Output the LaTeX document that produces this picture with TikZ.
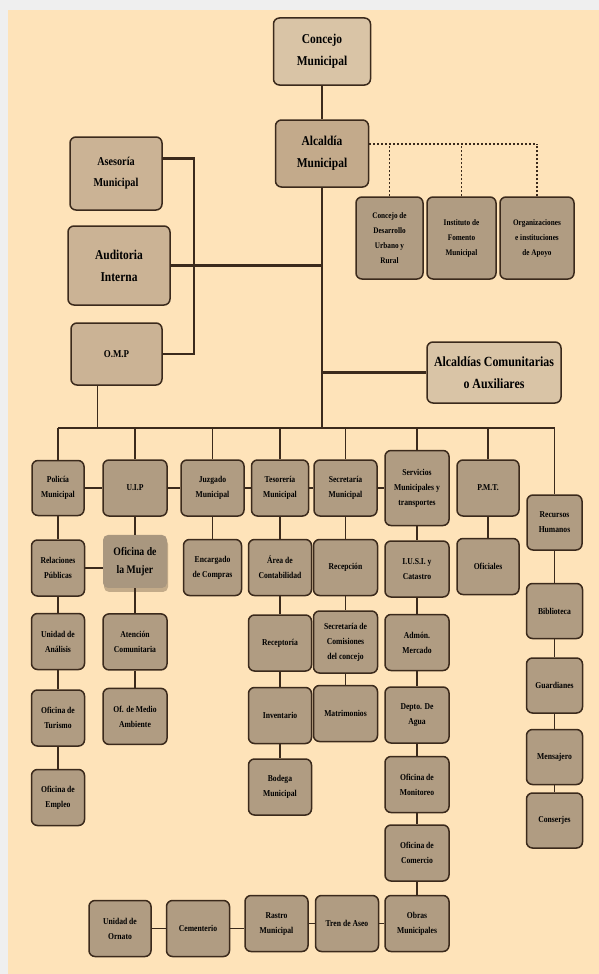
\documentclass[tikz,border=0pt]{standalone}
\usepackage{fontspec}
\setmainfont{Liberation Serif}[FakeStretch=0.85]
\usepackage{tikz}
\usetikzlibrary{positioning}
\usetikzlibrary{shadows}
\definecolor{peach}{HTML}{FEE3B9}
\definecolor{margin}{HTML}{EFEFEF}
\definecolor{edge}{HTML}{3B2A1C}
\definecolor{sand}{HTML}{D9C4A6}
\definecolor{mayor}{HTML}{C3AA8B}
\definecolor{staff}{HTML}{CBB395}
\definecolor{taupe}{HTML}{B09C82}
\definecolor{mujerfill}{HTML}{A9977F}

\begin{document}
\begin{tikzpicture}[x=1pt, y=-1pt,
      orgbox/.style ={draw=edge, line width=1.5pt, rounded corners=6pt, fill=taupe, align=center, inner sep=1pt,
                      font=\bfseries\fontsize{9}{15}\selectfont, minimum width=62pt, minimum height=56pt},
      headbox/.style ={orgbox, fill=sand, font=\bfseries\fontsize{13.5}{22}\selectfont, minimum width=97pt, minimum height=67pt},
      staffbox/.style ={orgbox, fill=staff, font=\bfseries\fontsize{12}{21}\selectfont, minimum width=92pt, minimum height=73pt},
      supportbox/.style ={orgbox, font=\bfseries\fontsize{8.5}{15}\selectfont, minimum width=67pt, minimum height=82pt},
      mujerbox/.style ={rounded corners=5pt, fill=mujerfill, align=center, font=\bfseries\fontsize{11.5}{18}\selectfont,
                        minimum width=64pt, minimum height=53pt,
                        drop shadow={shadow xshift=1pt, shadow yshift=-4pt, opacity=0.3, fill=edge}},
      link/.style ={draw=edge, line width=2.2pt},
      drop/.style ={draw=edge, line width=1.8pt},
      stem/.style ={draw=edge, line width=1.3pt},
      dots/.style ={draw=edge, line width=2pt, dash pattern=on 2pt off 2pt},
      node distance=16pt
    ]
    \useasboundingbox (0,0) rectangle (599,974) ;
    \fill [margin] (0,0) rectangle (599,974) ;
    \fill [peach] (8,10) rectangle (599,974) ;

    \node [headbox] (concejo) at (322,51.5) {Concejo\\Municipal} ;
    \node [headbox, fill=mayor, minimum width=93pt] (alcaldia) at (322,153.5) {Alcaldía\\Municipal} ;
    \node [staffbox] (asesoria) at (116,173.5) {Asesoría\\Municipal} ;
    \node [staffbox, minimum width=102pt, minimum height=79pt, font=\bfseries\fontsize{13.5}{22}\selectfont] (auditoria) at (119,265.5) {Auditoria\\Interna} ;
    \node [staffbox, minimum width=91pt, minimum height=62pt, font=\bfseries\fontsize{10.5}{15}\selectfont] (omp) at (116.5,354) {O.M.P} ;
    \node [supportbox] (cdur) at (389.5,238) {Concejo de\\Desarrollo\\Urbano y\\Rural} ;
    \node [supportbox, minimum width=69pt] (ifm) at (461.5,238) {Instituto de\\Fomento\\Municipal} ;
    \node [supportbox, minimum width=74pt] (oia) at (537,238) {Organizaciones\\e instituciones\\de Apoyo} ;
    \node [headbox, minimum width=134pt, minimum height=61pt, font=\bfseries\fontsize{14}{21.5}\selectfont] (alcaux) at (494,372.5) {Alcaldías Comunitarias\\o Auxiliares} ;

    \node [orgbox, minimum width=52pt, minimum height=55pt] (policia) at (58,488) {Policía\\Municipal} ;
    \node [orgbox, minimum width=64pt] (uip) at (135,488) {U.I.P} ;
    \node [orgbox, minimum width=63pt] (juzgado) at (212.5,488) {Juzgado\\Municipal} ;
    \node [orgbox, minimum width=57pt] (tesoreria) at (280,488) {Tesorería\\Municipal} ;
    \node [orgbox, minimum width=63pt] (secretaria) at (345.5,488) {Secretaría\\Municipal} ;
    \node [orgbox, minimum width=64pt, minimum height=75pt] (servicios) at (417,488) {Servicios\\Municipales y\\transportes} ;
    \node [orgbox] (pmt) at (488,488) {P.M.T.} ;
    \node [orgbox, minimum width=55pt, minimum height=55pt] (rrhh) at (554.5,522.5) {Recursos\\Humanos} ;

    \node [orgbox, minimum width=53pt] (relaciones) [below=23pt of policia] {Relaciones\\Públicas} ;
    \node [orgbox, minimum width=53pt] (unidad) [below=16pt of relaciones] {Unidad de\\Análisis} ;
    \node [orgbox, minimum width=53pt] (turismo) [below=19pt of unidad] {Oficina de\\Turismo} ;
    \node [orgbox, minimum width=53pt] (empleo) [below=22pt of turismo] {Oficina de\\Empleo} ;

    \node [mujerbox] (mujer) [below=18pt of uip] {Oficina de\\la Mujer} ;
    \node [orgbox, minimum width=64pt] (atencion) [below=25pt of mujer] {Atención\\Comunitaria} ;
    \node [orgbox, minimum width=64pt] (ambiente) [below=17pt of atencion] {Of. de Medio\\Ambiente} ;

    \node [orgbox, minimum width=58pt] (encargado) [below=22pt of juzgado] {Encargado\\de Compras} ;

    \node [orgbox, minimum width=63pt] (area) [below=22pt of tesoreria] {Área de\\Contabilidad} ;
    \node [orgbox, minimum width=63pt] (receptoria) [below=18pt of area] {Receptoría} ;
    \node [orgbox, minimum width=63pt] (inventario) [below=15pt of receptoria] {Inventario} ;
    \node [orgbox, minimum width=63pt] (bodega) [below=14pt of inventario] {Bodega\\Municipal} ;

    \node [orgbox, minimum width=64pt] (recepcion) [below=22pt of secretaria] {Recepción} ;
    \node [orgbox, minimum width=64pt, minimum height=62pt] (comisiones) [below=14pt of recepcion] {Secretaría de\\Comisiones\\del concejo} ;
    \node [orgbox, minimum width=64pt] (matrimonios) [below=11pt of comisiones] {Matrimonios} ;

    \node [orgbox, minimum width=64pt] (iusi) [below=14pt of servicios] {I.U.S.I. y\\Catastro} ;
    \node [orgbox, minimum width=64pt] (admon) [below=16pt of iusi] {Admón.\\Mercado} ;
    \node [orgbox, minimum width=64pt] (depto) [below=15pt of admon] {Depto. De\\Agua} ;
    \node [orgbox, minimum width=64pt] (monitoreo) [below=12pt of depto] {Oficina de\\Monitoreo} ;
    \node [orgbox, minimum width=64pt] (comercio) [below=11pt of monitoreo] {Oficina de\\Comercio} ;
    \node [orgbox, minimum width=64pt] (obras) [below=13pt of comercio] {Obras\\Municipales} ;
    \node [orgbox, minimum width=63pt] (tren) [left=5pt of obras] {Tren de Aseo} ;
    \node [orgbox, minimum width=63pt] (rastro) [left=6pt of tren] {Rastro\\Municipal} ;
    \node [orgbox, minimum width=63pt] (cementerio) [left=14pt of rastro, yshift=-5pt] {Cementerio} ;
    \node [orgbox, minimum width=62pt] (ornato) [left=14pt of cementerio] {Unidad de\\Ornato} ;

    \node [orgbox] (oficiales) [below=21pt of pmt] {Oficiales} ;

    \node [orgbox, minimum width=56pt, minimum height=55pt] (biblioteca) [below=32pt of rrhh] {Biblioteca} ;
    \node [orgbox, minimum width=56pt, minimum height=55pt] (guardianes) [below=18pt of biblioteca] {Guardianes} ;
    \node [orgbox, minimum width=56pt, minimum height=55pt] (mensajero) [below=15pt of guardianes] {Mensajero} ;
    \node [orgbox, minimum width=56pt, minimum height=55pt] (conserjes) [below=7pt of mensajero] {Conserjes} ;

    \coordinate (bus) at (322,428) ;
    \coordinate (dotline) at ([yshift=10pt]alcaldia.east) ;

    \draw [drop] (concejo) -- (alcaldia) ;
    \draw [link] (alcaldia.south) -- (bus) ;
    \draw [link] ([yshift=15pt]asesoria.east) -- ++(31,0) |- (omp.east) ;
    \draw [link] (auditoria.east) -- (auditoria.east -| alcaldia) ;
    \draw [link] (alcaux.west) -- (alcaux.west -| alcaldia) ;
    \draw [dots] (dotline) -- (dotline -| oia) ;
    \draw [dots, line width=1.2pt] (cdur.north) -- (cdur.north |- dotline) ;
    \draw [dots, line width=1.2pt] (ifm.north) -- (ifm.north |- dotline) ;
    \draw [dots, line width=1.2pt] (oia.north) -- (oia.north |- dotline) ;
    \draw [stem] ([xshift=-19pt]omp.south) -- ([xshift=-19pt]omp.south |- bus) ;

    \draw [link] (policia.north |- bus) -- (rrhh.north |- bus) ;
    \draw [drop] (policia.north) -- (policia.north |- bus) ;
    \draw [drop] (uip.north) -- (uip.north |- bus) ;
    \draw [drop] (juzgado.north) -- (juzgado.north |- bus) ;
    \draw [drop] (tesoreria.north) -- (tesoreria.north |- bus) ;
    \draw [drop] (secretaria.north) -- (secretaria.north |- bus) ;
    \draw [drop] (servicios.north) -- (servicios.north |- bus) ;
    \draw [drop] (pmt.north) -- (pmt.north |- bus) ;
    \draw [drop] (rrhh.north) -- (rrhh.north |- bus) ;

    \draw [stem] (policia) -- (uip) (uip) -- (juzgado) (juzgado) -- (tesoreria) ;
    \draw [stem] (tesoreria) -- (secretaria) (secretaria) -- (servicios) ;
    \draw [stem] (relaciones.east) -- (relaciones.east -| mujer.west) ;

    \draw [stem] (policia) -- (relaciones) (relaciones) -- (unidad) (unidad) -- (turismo) (turismo) -- (empleo) ;
    \draw [stem] (uip) -- (mujer) (mujer) -- (atencion) (atencion) -- (ambiente) ;
    \draw [stem] (juzgado) -- (encargado) ;
    \draw [stem] (tesoreria) -- (area) (area) -- (receptoria) (receptoria) -- (inventario) (inventario) -- (bodega) ;
    \draw [stem] (secretaria) -- (recepcion) (recepcion) -- (comisiones) (comisiones) -- (matrimonios) ;
    \draw [stem] (servicios) -- (iusi) (iusi) -- (admon) (admon) -- (depto) (depto) -- (monitoreo) ;
    \draw [stem] (monitoreo) -- (comercio) (comercio) -- (obras) ;
    \draw [stem] (obras) -- (tren) (tren) -- (rastro) ;
    \draw [stem] (cementerio.east) -- (cementerio.east -| rastro.west) ;
    \draw [stem] (cementerio) -- (ornato) ;
    \draw [stem] (pmt) -- (oficiales) ;
    \draw [stem] (rrhh) -- (biblioteca) (biblioteca) -- (guardianes) (guardianes) -- (mensajero) (mensajero) -- (conserjes) ;
  \end{tikzpicture}
\end{document}
